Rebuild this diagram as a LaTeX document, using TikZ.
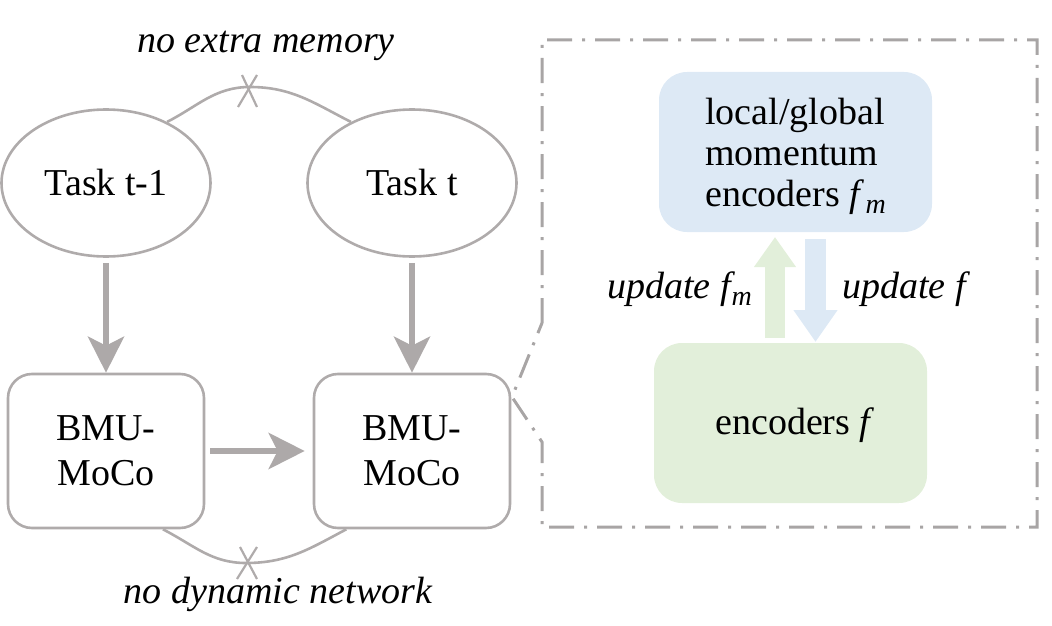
\documentclass[tikz,border=0pt]{standalone}
\usepackage{fontspec}
\IfFontExistsTF{LiberationSerif-Regular.ttf}{%
\setmainfont{LiberationSerif}[Extension=.ttf,UprightFont=*-Regular,ItalicFont=*-Italic,BoldFont=*-Bold,BoldItalicFont=*-BoldItalic]}{%
\setmainfont{Liberation Serif}}
\usetikzlibrary{arrows.meta,shapes.geometric,calc}
\definecolor{lgray}{HTML}{AFABAB}
\definecolor{agray}{HTML}{ADA9A9}
\definecolor{dgray}{HTML}{A8A5A5}
\definecolor{lblue}{HTML}{DDE9F5}
\definecolor{lgreen}{HTML}{E2EFDA}
\newcommand{\fsym}{\textit{f}}
\newcommand{\fmsym}{\textit{f}\kern1pt\raisebox{-7pt}{\fontsize{28}{28}\selectfont\textit{m}}}
\tikzset{
  taskell/.style={ellipse,draw=lgray,line width=2.6pt,minimum width=209pt,minimum height=147pt,inner sep=0pt},
  bmubox/.style={rectangle,rounded corners=24pt,draw=lgray,line width=2.6pt,minimum width=196pt,minimum height=154pt,align=center,inner sep=0pt},
  encbox/.style={rectangle,rounded corners=28pt,minimum width=273pt,minimum height=160pt,align=left,inner sep=0pt},
  bigarrow/.style={draw=agray,line width=6pt,-{Stealth[length=36pt,width=36pt,inset=9pt]}},
  thinline/.style={draw=lgray,line width=2.6pt},
  crossmark/.style={draw=lgray,line width=2.2pt},
  lab/.style={inner sep=0pt,font=\fontsize{38}{41}\selectfont\itshape},
  dashline/.style={draw=dgray,line width=3pt,dash pattern=on 25pt off 10pt on 3pt off 10pt},
}
\begin{document}
\begin{tikzpicture}[x=1pt,y=-1pt,font=\fontsize{38}{41}\selectfont]
\useasboundingbox (0,0) rectangle (1052,626);
% left part
\node[taskell] (t1) at (106,183) {Task t-1};
\node[taskell] (t2) at (412,183) {Task t};
\node[bmubox,font=\fontsize{38}{45}\selectfont] (b1) at (106,451) {BMU-\\MoCo};
\node[bmubox,font=\fontsize{38}{45}\selectfont] (b2) at (412,451) {BMU-\\MoCo};
\draw[bigarrow] ([yshift=-5pt]t1.south) -- (b1.north);
\draw[bigarrow] ([yshift=-5pt]t2.south) -- (b2.north);
\draw[bigarrow] ([xshift=5pt]b1.east) -- ([xshift=-8pt]b2.west);
% top arc
\coordinate (mtop) at (250,87);
\draw[thinline] (t1.45) to[out=27,in=180] (mtop) to[out=0,in=153] (t2.135);
\coordinate (xa) at (248,91);
\draw[crossmark] ($(xa)+(-10,16)$) -- ($(xa)+(9,-16)$);
\draw[crossmark] ($(xa)+(-6,-16)$) -- ($(xa)+(9,16)$);
\node[lab,anchor=base] (memlab) at (266,53) {no extra memory};
% bottom arc
\coordinate (mbot) at (246,563);
\draw[thinline] (b1.-54) to[out=-27,in=180] (mbot) to[out=0,in=-152] (b2.-130);
\coordinate (xb) at (247,563);
\draw[crossmark] ($(xb)+(-10,16)$) -- ($(xb)+(10,-16)$);
\draw[crossmark] ($(xb)+(-7,-16)$) -- ($(xb)+(10,16)$);
\node[lab,anchor=base] (netlab) at (278,603) {no dynamic network};
% right panel
\draw[dashline] (542,323) -- (542,40) -- (1037,40) -- (1037,527) -- (542,527) -- (542,442) -- (512,397) -- cycle;
\node[encbox,fill=lblue] (bbox) at (795.5,152) {};
\node[inner sep=0pt,anchor=base west,align=left] (btext) at (705,206) {local/global\\momentum\\encoders \fmsym};
\node[encbox,fill=lgreen] (gbox) at (790.5,423) {};
\node[inner sep=0pt,anchor=base] (gtext) at (795,434) {encoders \fsym};
\coordinate (upS) at (775,338);
\coordinate (upE) at (775,237);
\coordinate (dnS) at (815.5,239);
\coordinate (dnE) at (815.5,342);
\draw[draw=lgreen,line width=20pt,-{Triangle[length=30pt,width=40pt]}] (upS) -- (upE);
\draw[draw=lblue,line width=21pt,-{Triangle[length=32pt,width=42pt]}] (dnS) -- (dnE);
\node[lab,anchor=base east] (uplab) at (752,298) {update \fmsym};
\node[lab,anchor=base west] (dnlab) at (842,298) {update \fsym};
\end{tikzpicture}
\end{document}
